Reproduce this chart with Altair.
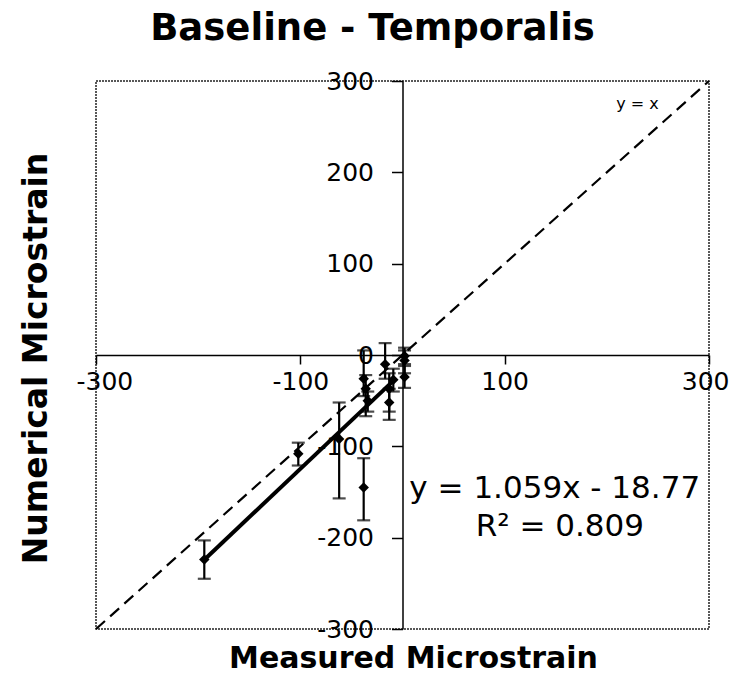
import altair as alt
import pandas as pd

# ---- data ----
measured = [-194, -102, -62, -38, -38, -36, -34, -17, -13, -13, -9, 2, 2, 2]
numerical = [-224, -108, -92, -145, -26, -37, -50, -10, -37, -52, -27, -1, -6, -24]
err_low = [-245, -121, -157, -181, -45, -67, -62, -26, -71, -62, -40, -10, -20, -36]
err_high = [-203, -96, -52, -113, 5, -22, -40, 13, -20, -37, -15, 8, 5, -12]

slope = 1.059
intercept = -18.77
r_squared = 0.809
trend_x = [-194, -8]
identity_x = [-300, 300]

x_ticks = [-300, -100, 100, 300]
y_ticks = [-300, -200, -100, 0, 100, 200, 300]

eq_text = ["y = 1.059x - 18.77", "R² = 0.809"]
eq_x = [149, 154]
eq_y = [-147, -188]
idlabel_text = ["y = x"]
idlabel_x = [230]
idlabel_y = [275]

# ---- tables ----
pts = pd.DataFrame({"x": measured, "y": numerical, "lo": err_low, "hi": err_high})
caps = pd.DataFrame({"x": measured + measured, "y": err_low + err_high})
ident = pd.DataFrame({"x": identity_x, "y": identity_x})
trend = pd.DataFrame({"x": trend_x, "y": [slope * v + intercept for v in trend_x]})
eqs = pd.DataFrame({"x": eq_x, "y": eq_y, "t": eq_text})
idl = pd.DataFrame({"x": idlabel_x, "y": idlabel_y, "t": idlabel_text})

W, H = 613, 548
FONT = "DejaVu Sans"
LABEL_EXPR = "'' + datum.value"

xscale = alt.Scale(domain=[-300, 300], nice=False, zero=False)
yscale = alt.Scale(domain=[-300, 300], nice=False, zero=False)

xaxis = alt.Axis(
    values=x_ticks, offset=-H / 2, grid=False, labelExpr=LABEL_EXPR,
    domainColor="black", domainWidth=1.5, tickColor="black", tickWidth=1.5,
    tickSize=9, labelFont=FONT, labelFontSize=25, labelColor="black",
    labelPadding=5, labelFlush=True, labelFlushOffset=20, labelOverlap=False,
    title="Measured Microstrain", titleFont=FONT, titleFontSize=30,
    titleFontWeight="bold", titleColor="black",
    titleX=317, titleY=312, titleBaseline="alphabetic",
)
yaxis = alt.Axis(
    values=y_ticks, offset=-W / 2, grid=False, labelExpr=LABEL_EXPR,
    domainColor="black", domainWidth=1.5, tickColor="black", tickWidth=1.5,
    tickSize=11, labelFont=FONT, labelFontSize=25, labelColor="black",
    labelPadding=18, labelFlush=False, labelOverlap=False,
    title="Numerical Microstrain", titleFont=FONT, titleFontSize=33,
    titleFontWeight="bold", titleColor="black",
    titleX=-356, titleY=277, titleBaseline="alphabetic",
)


def X(field="x"):
    return alt.X(f"{field}:Q", scale=xscale, axis=xaxis)


def Y(field="y"):
    return alt.Y(f"{field}:Q", scale=yscale, axis=yaxis)


identity_line = alt.Chart(ident).mark_line(
    color="black", strokeWidth=2.2, strokeDash=[12, 7]
).encode(x=X(), y=Y())

trend_line = alt.Chart(trend).mark_line(
    color="black", strokeWidth=4
).encode(x=X(), y=Y())

err_rules = alt.Chart(pts).mark_rule(color="black", strokeWidth=2.2).encode(
    x=X(), y=Y("lo"), y2="hi:Q"
)

err_caps = alt.Chart(caps).mark_tick(
    color="black", orient="horizontal", size=13, thickness=2.2
).encode(x=X(), y=Y())

points = alt.Chart(pts).mark_point(
    shape="diamond", filled=True, color="black", opacity=1, size=110
).encode(x=X(), y=Y())

eq_marks = alt.Chart(eqs).mark_text(
    font=FONT, fontSize=31, color="black", align="center", baseline="middle"
).encode(x=X(), y=Y(), text="t:N")

id_mark = alt.Chart(idl).mark_text(
    font=FONT, fontSize=16, color="black", align="center", baseline="middle"
).encode(x=X(), y=Y(), text="t:N")

chart = alt.layer(
    identity_line, trend_line, err_rules, err_caps, points, eq_marks, id_mark
).properties(
    width=W, height=H,
    title=alt.TitleParams(
        "Baseline - Temporalis", font=FONT, fontSize=37, fontWeight="bold",
        color="black", anchor="middle", frame="group", dx=-30, offset=-8,
        baseline="alphabetic",
    ),
    autosize=alt.AutoSizeParams(type="none"),
    padding={"left": 88, "top": 73, "right": 21, "bottom": 49},
).configure_view(
    stroke="#222222", strokeWidth=1.5, strokeDash=[2, 1]
)

chart.save("out.html", embed_options={"renderer": "svg", "actions": False})
